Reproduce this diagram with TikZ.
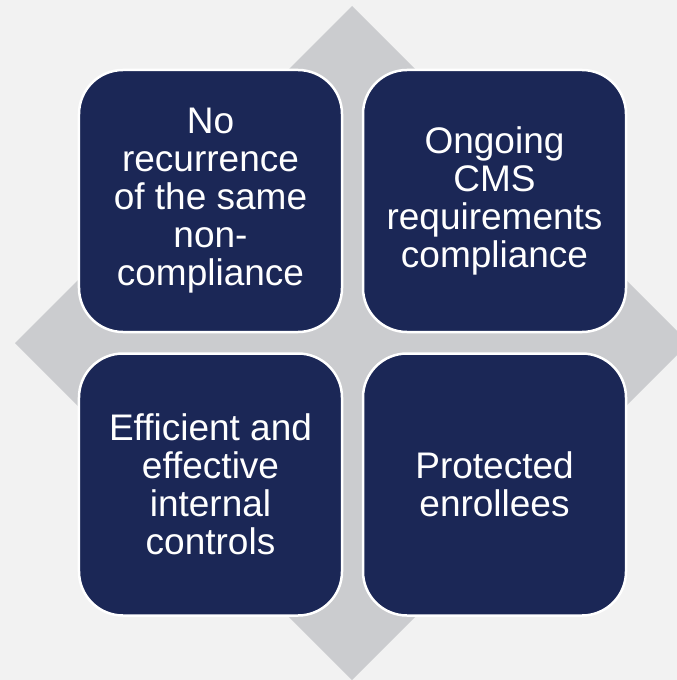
\documentclass[tikz,border=0pt]{standalone}
\usepackage{fontspec}
\setmainfont{Liberation Sans}
\definecolor{pagebg}{HTML}{F2F2F2}
\definecolor{diamondgrey}{HTML}{CBCCCF}
\definecolor{navy}{HTML}{1B2756}
\begin{document}
\begin{tikzpicture}[x=1bp,y=-1bp,
  quad/.style={rectangle, rounded corners=44bp, fill=navy, draw=white,
    line width=2.5bp, minimum width=263bp, minimum height=262bp,
    text=white, align=center, inner sep=0pt,
    font=\fontsize{37bp}{38bp}\selectfont}]
  % page and background
  \fill[pagebg] (0,0) rectangle (677,680);
  \useasboundingbox (0,0) rectangle (677,680);
  \begin{scope}
    \clip (0,0) rectangle (677,680);
    \fill[diamondgrey] (352,6) -- (689,343) -- (352,680) -- (15,343) -- cycle;
  \end{scope}
  % four outcome tiles
  \node[quad] (tl) at (210.5,201) {No\\recurrence\\of the same\\non-\\compliance};
  \node[quad] (tr) at (494.5,201) {Ongoing\\CMS\\requirements\\compliance};
  \node[quad] (bl) at (210.5,484.5) {Efficient and\\effective\\internal\\controls};
  \node[quad] (br) at (494.5,484.5) {Protected\\enrollees};
\end{tikzpicture}
\end{document}
